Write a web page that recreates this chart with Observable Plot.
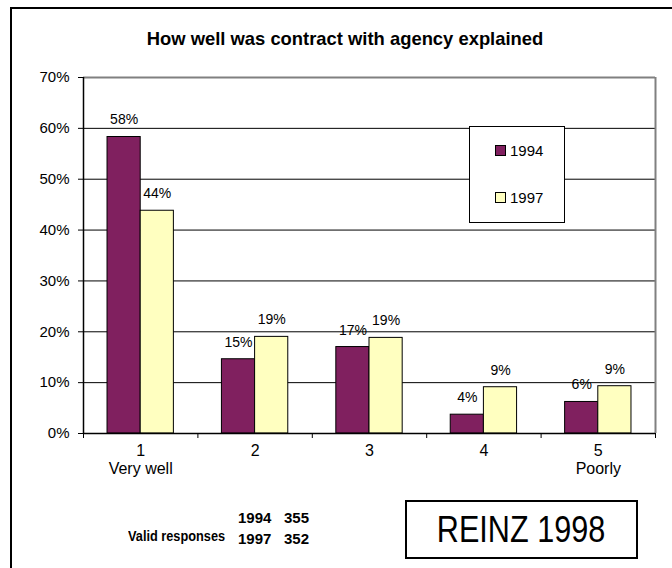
<!DOCTYPE html>
<html>
<head>
<meta charset="utf-8">
<script src="https://cdn.jsdelivr.net/npm/d3@7"></script>
<script src="https://cdn.jsdelivr.net/npm/@observablehq/plot@0.6"></script>
<style>
  html, body { margin: 0; padding: 0; background: #fff; }
  body { font-family: "Liberation Sans", Arial, sans-serif; }
  #wrap { position: relative; width: 672px; height: 568px; overflow: hidden; }
  #border { position: absolute; left: 10px; top: 7px; width: 700px; height: 600px; border: 2px solid #000; box-sizing: border-box; }
  #title { position: absolute; left: 0; width: 690px; top: 28px; line-height: 22px; text-align: center; font-weight: bold; font-size: 18.4px; white-space: nowrap; }
  #chart { position: absolute; left: 0; top: 0; }
  #legend { position: absolute; left: 469px; top: 126px; width: 96px; height: 97px; border: 1px solid #000; background: #fff; box-sizing: border-box; }
  .li { position: absolute; left: 25px; font-size: 15px; line-height: 17px; }
  .sw { display: inline-block; width: 9px; height: 9px; border: 1px solid #000; margin-right: 4px; vertical-align: 0px; }
  .btxt { position: absolute; font-weight: bold; font-size: 15px; line-height: 18px; white-space: nowrap; }
  #reinz { position: absolute; left: 405px; top: 500px; width: 233px; height: 59px; border: 2px solid #000; box-sizing: border-box; display: flex; align-items: center; justify-content: center; }
  #reinz span { font-size: 36px; display: inline-block; transform: scaleX(0.85); white-space: nowrap; }
</style>
</head>
<body>
<div id="wrap">
  <div id="border"></div>
  <div id="chart"></div>
  <div id="title"></div>
  <div id="legend"></div>
  <div id="reinz"><span></span></div>
</div>
<script>
const title = "How well was contract with agency explained";
const categories = ["1", "2", "3", "4", "5"];
const categorySubLabels = ["Very well", "", "", "", "Poorly"];
const years = ["1994", "1997"];
const values1994 = [0.583, 0.146, 0.170, 0.037, 0.062];
const values1997 = [0.438, 0.190, 0.188, 0.091, 0.093];
const yTicks = [0, 0.1, 0.2, 0.3, 0.4, 0.5, 0.6, 0.7];
const colors = ["#80205F", "#FFFFC0"];
const validYears = ["1994", "1997"];
const validCounts = [355, 352];
const validLabel = "Valid responses";
const sourceLabel = "REINZ 1998";

const barWidth = 0.29; // fraction of a category
const rows = [];
categories.forEach((c, i) => {
  rows.push({cat: i + 1, year: years[0], value: values1994[i], side: -1});
  rows.push({cat: i + 1, year: years[1], value: values1997[i], side: 0});
});
const catRows = categories.map((c, i) => ({cat: i + 1, label: categorySubLabels[i] ? c + "\n" + categorySubLabels[i] : c}));
const bounds = d3.range(0.5, categories.length + 1, 1);

const fmt = d3.format(".0%");
const plot = Plot.plot({
  width: 672,
  height: 568,
  marginLeft: 83,
  marginRight: 17,
  marginTop: 77,
  marginBottom: 135,
  style: {fontFamily: "Liberation Sans, Arial, sans-serif", background: "transparent"},
  x: {domain: [0.5, categories.length + 0.5], axis: null},
  y: {domain: [0, 0.7], axis: null},
  color: {domain: years, range: colors},
  marks: [
    Plot.ruleY(yTicks.slice(1, -1), {stroke: "#000", strokeWidth: 1}),
    Plot.ruleY([0.7], {stroke: "#808080", strokeWidth: 2}),
    Plot.ruleX([categories.length + 0.5], {stroke: "#808080", strokeWidth: 2}),
    Plot.rect(rows, {
      x1: d => d.cat + d.side * barWidth,
      x2: d => d.cat + (d.side + 1) * barWidth,
      y1: 0, y2: "value",
      fill: "year", stroke: "#000", strokeWidth: 1
    }),
    Plot.text(rows, {
      x: d => d.cat + (d.side + 0.5) * barWidth,
      y: "value",
      text: d => fmt(d.value),
      dy: -17, fontSize: 14, fill: "#000"
    }),
    Plot.ruleX([0.5], {stroke: "#000", strokeWidth: 1.5}),
    Plot.ruleY([0], {stroke: "#000", strokeWidth: 1.5}),
    Plot.axisY({ticks: yTicks, tickFormat: fmt, tickSize: 5, tickPadding: 9, fontSize: 15, stroke: "#000", color: "#000", label: null}),
    Plot.axisX({ticks: bounds, tickFormat: () => "", tickSize: 5, stroke: "#000", label: null}),
    Plot.text(catRows, {x: "cat", y: 0, text: "label", dy: 9, lineAnchor: "top", lineHeight: 1.15, fontSize: 16, fill: "#000"})
  ]
});
document.getElementById("chart").appendChild(plot);

document.getElementById("title").textContent = title;

const leg = document.getElementById("legend");
years.forEach((y, i) => {
  const d = document.createElement("div");
  d.className = "li";
  d.style.top = (i === 0 ? 15 : 62) + "px";
  const sw = document.createElement("span");
  sw.className = "sw";
  sw.style.background = colors[i];
  d.appendChild(sw);
  d.appendChild(document.createTextNode(y));
  leg.appendChild(d);
});

const wrap = document.getElementById("wrap");
function addText(txt, left, top, extra) {
  const e = document.createElement("div");
  e.className = "btxt";
  e.textContent = txt;
  e.style.left = left + "px";
  e.style.top = top + "px";
  if (extra) e.style.cssText += extra;
  wrap.appendChild(e);
}
addText(validLabel, 128, 527, "transform:scaleX(0.85);transform-origin:0 0;");
validYears.forEach((y, i) => {
  addText(y, 238, 509 + i * 21);
  addText(String(validCounts[i]), 284, 509 + i * 21);
});
document.querySelector("#reinz span").textContent = sourceLabel;
</script>
</body>
</html>
